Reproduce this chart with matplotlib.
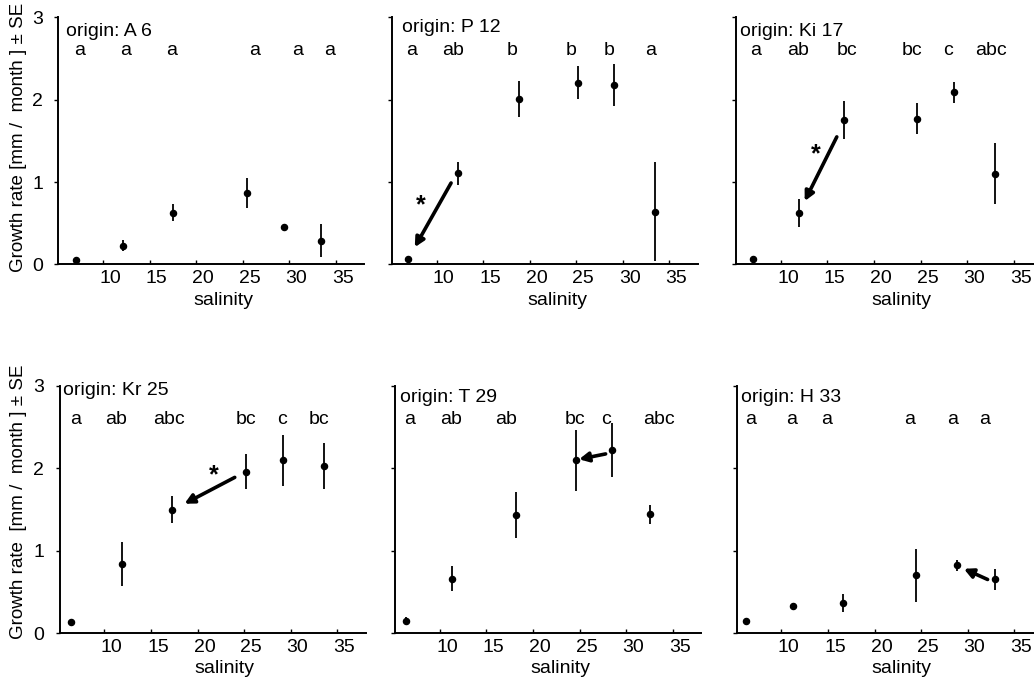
import matplotlib
matplotlib.use("Agg")
import matplotlib.pyplot as plt

plt.rcParams['font.family'] = ['Liberation Sans', 'DejaVu Sans']

# ---------------- data ----------------
origins = ["origin: A 6", "origin: P 12", "origin: Ki 17",
           "origin: Kr 25", "origin: T 29", "origin: H 33"]

sal_A6 = [7.1, 12.1, 17.5, 25.4, 29.4, 33.35]
gr_A6 = [0.06, 0.23, 0.63, 0.87, 0.45, 0.29]
se_A6 = [0.0, 0.07, 0.10, 0.18, 0.0, 0.20]
let_A6 = ["a", "a", "a", "a", "a", "a"]
letx_A6 = [7.5, 12.45, 17.4, 26.3, 30.9, 34.3]

sal_P12 = [6.9, 12.3, 18.9, 25.2, 29.1, 33.5]
gr_P12 = [0.07, 1.11, 2.01, 2.21, 2.18, 0.64]
se_P12 = [0.0, 0.14, 0.22, 0.20, 0.26, 0.60]
let_P12 = ["a", "ab", "b", "b", "b", "a"]
letx_P12 = [7.3, 11.8, 18.15, 24.5, 28.5, 33.0]

sal_Ki17 = [7.0, 11.9, 16.8, 24.6, 28.55, 33.05]
gr_Ki17 = [0.07, 0.62, 1.75, 1.77, 2.09, 1.10]
se_Ki17 = [0.0, 0.17, 0.23, 0.19, 0.13, 0.37]
let_Ki17 = ["a", "ab", "bc", "bc", "c", "abc"]
letx_Ki17 = [7.25, 11.8, 17.1, 24.1, 27.95, 32.6]

sal_Kr25 = [6.4, 11.85, 17.25, 25.2, 29.15, 33.6]
gr_Kr25 = [0.13, 0.84, 1.50, 1.96, 2.10, 2.03]
se_Kr25 = [0.0, 0.27, 0.17, 0.21, 0.31, 0.28]
let_Kr25 = ["a", "ab", "abc", "bc", "c", "bc"]
letx_Kr25 = [6.85, 11.3, 16.95, 25.25, 29.05, 33.05]

sal_T29 = [6.3, 11.25, 18.15, 24.6, 28.5, 32.6]
gr_T29 = [0.15, 0.66, 1.43, 2.10, 2.22, 1.44]
se_T29 = [0.04, 0.15, 0.28, 0.37, 0.33, 0.12]
let_T29 = ["a", "ab", "ab", "bc", "c", "abc"]
letx_T29 = [6.7, 11.2, 17.1, 24.55, 27.8, 33.5]

sal_H33 = [6.2, 11.2, 16.6, 24.5, 28.9, 32.9]
gr_H33 = [0.14, 0.33, 0.36, 0.70, 0.82, 0.65]
se_H33 = [0.0, 0.0, 0.11, 0.32, 0.065, 0.13]
let_H33 = ["a", "a", "a", "a", "a", "a"]
letx_H33 = [6.65, 11.05, 14.9, 23.8, 28.4, 31.8]

# significant-difference arrows: (start sal, start growth, tip sal, tip growth)
arrow_P12 = (11.55, 0.99, 7.65, 0.21)
arrow_Ki17 = (16.0, 1.55, 12.55, 0.77)
arrow_Kr25 = (24.0, 1.89, 18.6, 1.57)
arrow_T29 = (27.8, 2.175, 24.95, 2.11)
arrow_H33 = (32.15, 0.65, 29.6, 0.78)
star_P12 = (8.3, 0.72)
star_Ki17 = (13.7, 1.34)
star_Kr25 = (21.7, 1.92)

xticks = [10, 15, 20, 25, 30, 35]
yticks = [0, 1, 2, 3]

panels = [
    (sal_A6, gr_A6, se_A6, let_A6, letx_A6, None, None),
    (sal_P12, gr_P12, se_P12, let_P12, letx_P12, arrow_P12, star_P12),
    (sal_Ki17, gr_Ki17, se_Ki17, let_Ki17, letx_Ki17, arrow_Ki17, star_Ki17),
    (sal_Kr25, gr_Kr25, se_Kr25, let_Kr25, letx_Kr25, arrow_Kr25, star_Kr25),
    (sal_T29, gr_T29, se_T29, let_T29, letx_T29, arrow_T29, None),
    (sal_H33, gr_H33, se_H33, let_H33, letx_H33, arrow_H33, None),
]

# ---------------- layout (pixels) ----------------
W, H = 1034, 679
fig = plt.figure(figsize=(W / 100, H / 100), dpi=100)

lefts = [58.3, 391.7, 736.0, 59.5, 395.0, 736.5]
bottoms = [264.5, 264.5, 264.5, 633.0, 633.0, 633.0]
AW, AH = 306.0, 247.0
origin_x = [6.05, 6.3, 5.55, 5.55, 5.7, 5.65]
origin_y = [2.77, 2.82, 2.77, 2.89, 2.80, 2.81]

XMIN, XMAX = 5.17, 38.05
FS = 14

for i, (sal, gr, se, lets, letx, arrow, star) in enumerate(panels):
    ax = fig.add_axes([lefts[i] / W, (H - bottoms[i]) / H, AW / W, AH / H])
    ax.set_xlim(XMIN, XMAX)
    ax.set_ylim(0, 3)
    for s in ["top", "right"]:
        ax.spines[s].set_visible(False)
    for s in ["left", "bottom"]:
        ax.spines[s].set_linewidth(1.4)
    ax.errorbar(sal, gr, yerr=se, fmt="o", color="black", ms=4.4,
                elinewidth=1.3, capsize=0)
    # major ticks (inward, unlabeled) + shifted labels via minor ticks
    ax.set_xticks(xticks)
    ax.set_xticklabels([])
    ax.set_xticks([t + 0.75 for t in xticks], minor=True)
    ax.set_xticklabels([str(t) for t in xticks], minor=True)
    ax.tick_params(axis="x", which="major", direction="in", length=3, width=1)
    ax.tick_params(axis="x", which="minor", length=0, labelsize=FS, pad=4)
    ax.set_yticks(yticks)
    ax.tick_params(axis="y", direction="out", length=3, width=1,
                   labelsize=FS, pad=8)
    if i % 3 != 0:
        ax.set_yticklabels([])
    ax.set_xlabel("salinity", fontsize=FS)
    ax.xaxis.set_label_coords(0.54, -0.11)
    ax.text(origin_x[i], origin_y[i], origins[i], fontsize=FS,
            ha="left", va="baseline")
    for lx, lt in zip(letx, lets):
        ax.text(lx, 2.54, lt, fontsize=FS, ha="center", va="baseline")
    if arrow is not None:
        ax.annotate("", xy=(arrow[2], arrow[3]), xytext=(arrow[0], arrow[1]),
                    arrowprops=dict(arrowstyle="-|>,head_length=0.55,head_width=0.28",
                                    lw=2.6, color="black",
                                    shrinkA=0, shrinkB=0))
    if star is not None:
        ax.text(star[0], star[1], "*", fontsize=18, fontweight="bold",
                ha="center", va="center")

fig.text(19.0 / W, 1 - 137.0 / H, "Growth rate [mm /  month ] \u00b1 SE",
         rotation=90, ha="center", va="center", fontsize=13.5)
fig.text(19.0 / W, 1 - 502.0 / H, "Growth rate  [mm /  month ] \u00b1 SE",
         rotation=90, ha="center", va="center", fontsize=13.5)

fig.savefig("out.png", dpi=100)
